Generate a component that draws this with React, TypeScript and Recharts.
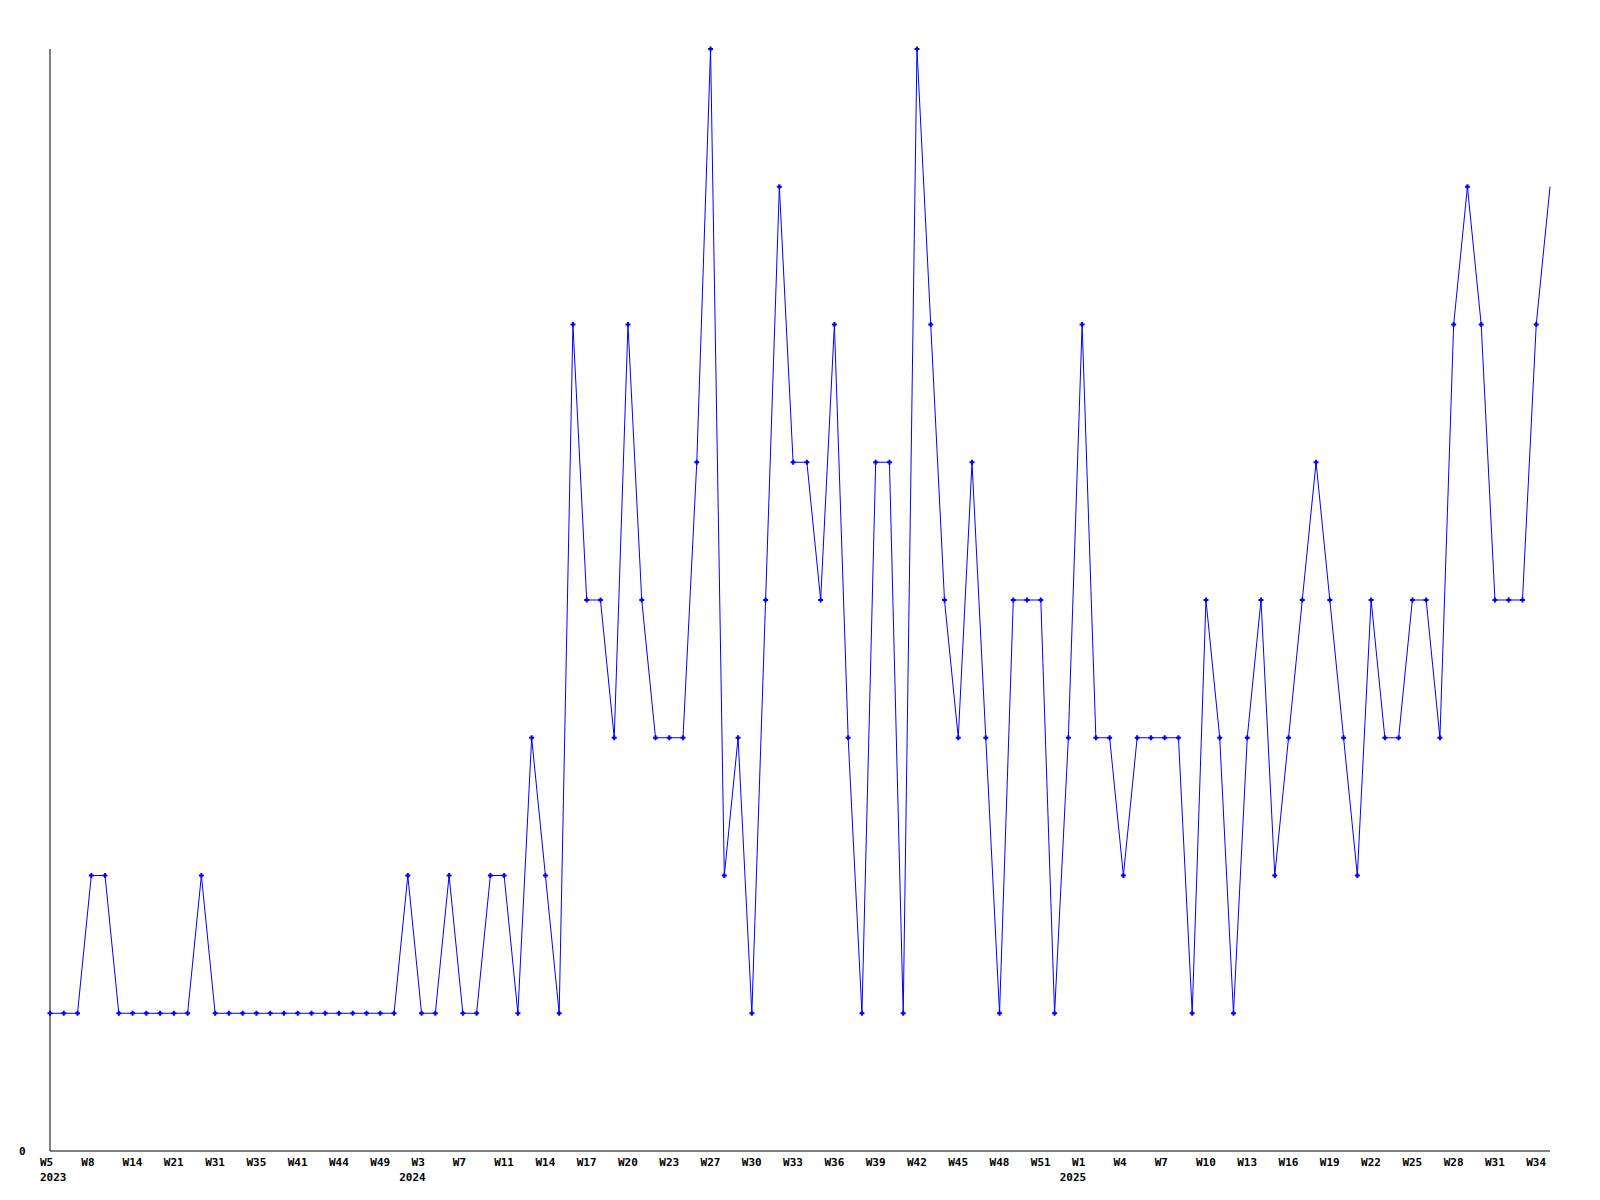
import { LineChart, Line, XAxis, YAxis } from "recharts";

// weekly counts, one per point (110 points, W5 2023 .. 2025)
const values = [
    1, 1, 1, 2, 2, 1, 1, 1, 1, 1,
    1, 2, 1, 1, 1, 1, 1, 1, 1, 1,
    1, 1, 1, 1, 1, 1, 2, 1, 1, 2,
    1, 1, 2, 2, 1, 3, 2, 1, 6, 4,
    4, 3, 6, 4, 3, 3, 3, 5, 8, 2,
    3, 1, 4, 7, 5, 5, 4, 6, 3, 1,
    5, 5, 1, 8, 6, 4, 3, 5, 3, 1,
    4, 4, 4, 1, 3, 6, 3, 3, 2, 3,
    3, 3, 3, 1, 4, 3, 1, 3, 4, 2,
    3, 4, 5, 4, 3, 2, 4, 3, 3, 4,
    4, 3, 6, 7, 6, 4, 4, 4, 6, 7,
];

// a label is printed under every third point
const weekLabels = [
    "W5", "W8", "W14", "W21", "W31", "W35", "W41", "W44", "W49",
    "W3", "W7", "W11", "W14", "W17", "W20", "W23", "W27", "W30", "W33",
    "W36", "W39", "W42", "W45", "W48", "W51",
    "W1", "W4", "W7", "W10", "W13", "W16", "W19", "W22", "W25", "W28", "W31", "W34",
];
const yearLabels = ["2023", "2024", "2025"];
const yearAtLabel = [0, 9, 25];

const LABEL_STEP = 3;
const FONT = "'DejaVu Sans Mono', monospace";
const CHAR_W = 6.6;

const data = values.map((v, i) => ({ i, v }));

const WeekTick = (props: any) => {
    const { x, y, payload } = props;
    const idx = payload.value / LABEL_STEP;
    const label = weekLabels[idx] ?? "";
    const yearPos = yearAtLabel.indexOf(idx);
    const year = yearPos >= 0 ? yearLabels[yearPos] : "";
    // year text ends just right of the point, but never left of the axis labels
    const yearLeft = Math.max(40, x + 4 - year.length * CHAR_W);
    return (
        <g>
            <text x={x - 10} y={y + 7} textAnchor="start" fontFamily={FONT} fontSize={11} fontWeight="bold" fill="#000">
                {label}
            </text>
            {year && (
                <text x={yearLeft} y={y + 22} textAnchor="start" fontFamily={FONT} fontSize={11} fontWeight="bold" fill="#000">
                    {year}
                </text>
            )}
        </g>
    );
};

const ZeroTick = (props: any) => {
    const { y, payload } = props;
    return (
        <text x={19} y={y + 4} textAnchor="start" fontFamily={FONT} fontSize={11} fontWeight="bold" fill="#000">
            {payload.value}
        </text>
    );
};

const Marker = (props: any) => {
    const { cx, cy, index } = props;
    if (index === values.length - 1) return <g key={index} />;
    return (
        <g key={index}>
            <line x1={cx - 2.5} y1={cy} x2={cx + 2.5} y2={cy} stroke="#0000ff" strokeWidth={2} />
            <line x1={cx} y1={cy - 2.5} x2={cx} y2={cy + 2.5} stroke="#0000ff" strokeWidth={2} />
        </g>
    );
};

export default function App() {
    return (
        <div style={{ position: "absolute", left: 0, top: 0, width: 1600, height: 1200, background: "#fff" }}>
            <LineChart
                width={1600}
                height={1200}
                data={data}
                margin={{ top: 49, right: 50, left: 0, bottom: 0 }}
            >
                <XAxis
                    dataKey="i"
                    type="category"
                    interval={LABEL_STEP - 1}
                    height={49}
                    axisLine={{ stroke: "#000", strokeWidth: 1 }}
                    tickLine={false}
                    tick={<WeekTick />}
                />
                <YAxis
                    width={50}
                    domain={[0, 8]}
                    ticks={[0]}
                    axisLine={{ stroke: "#000", strokeWidth: 1 }}
                    tickLine={false}
                    tick={<ZeroTick />}
                />
                <Line
                    type="linear"
                    dataKey="v"
                    stroke="#0000ff"
                    strokeWidth={1}
                    dot={Marker}
                    activeDot={false}
                    isAnimationActive={false}
                />
            </LineChart>
        </div>
    );
}
